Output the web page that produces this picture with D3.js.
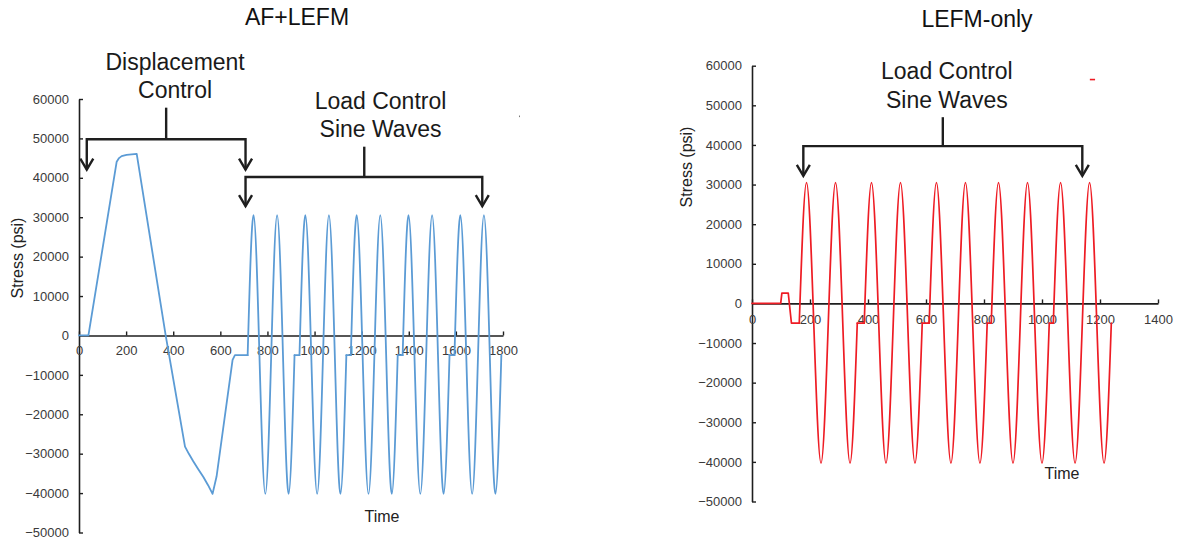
<!DOCTYPE html>
<html>
<head>
<meta charset="utf-8">
<script src="https://cdn.jsdelivr.net/npm/d3@7"></script>
<style>
  html, body { margin: 0; padding: 0; background: #fff; }
  svg { display: block; font-family: "Liberation Sans", Arial, sans-serif; }
</style>
</head>
<body>
<svg id="chart" width="1177" height="544"></svg>
<script>
// ---- data -------------------------------------------------------------
const stressTicks = [-50000, -40000, -30000, -20000, -10000, 0, 10000, 20000, 30000, 40000, 50000, 60000];
const afTimeTicks = [0, 200, 400, 600, 800, 1000, 1200, 1400, 1600, 1800];
const lefmTimeTicks = [0, 200, 400, 600, 800, 1000, 1200, 1400];

// AF+LEFM: displacement-controlled ramp, then hold before the sine blocks
const afRampTime   = [0, 40, 160, 170, 181, 202, 245, 368, 450, 467, 485, 505, 528, 548, 567, 584, 652, 662, 716];
const afRampStress = [0, 0, 44100, 45000, 45500, 45800, 46050, 0, -28200, -30100, -31900, -33800, -35900, -38000, -40200, -35800, -6200, -5000, -5000];

// AF+LEFM: load-controlled sine blocks (two cycles each), quarter-cycle points
const afSineTime = [
  [716, 741, 766, 791, 816, 841, 866, 890, 915],
  [936, 961, 986, 1011, 1036, 1061, 1086, 1110, 1135],
  [1154, 1179, 1204, 1229, 1254, 1279, 1304, 1328, 1353],
  [1374, 1399, 1424, 1449, 1474, 1499, 1524, 1548, 1573],
  [1594, 1619, 1644, 1669, 1694, 1719, 1744, 1768, 1793]
];
const afSineStress = [-5000, 30500, -5000, -40200, -5000, 30500, -5000, -40200, -5000];

// LEFM-only: short pre-load step, then hold
const lefmRampTime   = [0, 99, 103, 125, 136, 163];
const lefmRampStress = [0, 0, 2600, 2600, -5000, -5000];

// LEFM-only: sine blocks
const lefmSineTime = [
  [163, 188, 213, 238, 263, 288, 313, 338, 363],
  [387, 412, 437, 462, 487, 512, 537, 562, 587],
  [611, 636, 661, 686, 711, 736, 761, 786, 811],
  [825, 850, 875, 900, 925, 950, 975, 1000, 1025],
  [1039, 1064, 1089, 1114, 1139, 1164, 1189, 1214, 1239]
];
const lefmSineStress = [-5000, 30500, -5000, -40300, -5000, 30500, -5000, -40300, -5000];

// bracket annotations (time / stress units of each panel)
const afBrackets = [
  { lines: ["Displacement", "Control"], from: 33, to: 707, at: 49800, tip: 42100, stem: 370, top: 57800, textAt: 408 },
  { lines: ["Load Control", "Sine Waves"], from: 707, to: 1712, at: 40200, tip: 32800, stem: 1211, top: 47900, textAt: 1280 }
];
const lefmBrackets = [
  { lines: ["Load Control", "Sine Waves"], from: 177, to: 1139, at: 39700, tip: 32200, stem: 658, top: 47000, textAt: 672 }
];

// ---- drawing ----------------------------------------------------------
const svg = d3.select("#chart");
const INK = "#1e1e1e";

function panel(cfg) {
  const g = svg.append("g");
  const x = d3.scaleLinear().domain(cfg.xDomain).range(cfg.xRange);
  const y = d3.scaleLinear().domain([-50000, 60000]).range(cfg.yRange);

  // title
  g.append("text")
    .attr("x", cfg.titleX).attr("y", cfg.titleY)
    .attr("text-anchor", "middle")
    .attr("font-size", 23).attr("fill", "#111")
    .text(cfg.title);

  // axes: y axis at time 0, x axis at stress 0, ticks pointing inward
  const yAxis = d3.axisLeft(y).tickValues(stressTicks).tickSizeInner(-4).tickSizeOuter(0).tickPadding(10).tickFormat(d3.format("d"));
  const xAxis = d3.axisBottom(x).tickValues(cfg.xTicks).tickSizeInner(-4).tickSizeOuter(0).tickPadding(cfg.xPad).tickFormat(d3.format("d"));

  const ya = g.append("g").attr("transform", `translate(${x(0)},0)`).call(yAxis);
  const xa = g.append("g").attr("transform", `translate(0,${y(0)})`).call(xAxis);
  [ya, xa].forEach(a => {
    a.select(".domain").attr("stroke", INK).attr("stroke-width", 1.6);
    a.selectAll(".tick line").attr("stroke", INK).attr("stroke-width", 1.4);
    a.selectAll(".tick text").attr("font-size", 13).attr("fill", "#3a3a3a")
      .attr("font-family", "\"Liberation Sans\", Arial, sans-serif");
  });
  ya.selectAll(".tick").filter(d => d === 0).select("line").remove();

  // axis titles
  g.append("text")
    .attr("transform", `translate(${cfg.yTitleX},${cfg.yTitleY}) rotate(-90)`)
    .attr("text-anchor", "middle").attr("font-size", 16).attr("fill", "#222")
    .text("Stress (psi)");
  g.append("text")
    .attr("x", cfg.xTitleX).attr("y", cfg.xTitleY)
    .attr("text-anchor", "middle").attr("font-size", 16).attr("fill", "#222")
    .text("Time");

  // series
  const straight = d3.line().x(d => x(d[0])).y(d => y(d[1]));
  const smooth = d3.line().x(d => x(d[0])).y(d => y(d[1])).curve(d3.curveNatural);
  const lineStyle = p => p.attr("fill", "none").attr("stroke", cfg.color)
    .attr("stroke-width", cfg.width).attr("stroke-linejoin", "round").attr("stroke-linecap", "round");

  g.append("path").datum(d3.zip(cfg.rampTime, cfg.rampStress)).attr("d", straight).call(lineStyle);
  cfg.sineTime.forEach((block, i) => {
    g.append("path").datum(d3.zip(block, cfg.sineStress)).attr("d", smooth).call(lineStyle);
    const next = cfg.sineTime[i + 1];
    if (next) {
      const hold = [[block[block.length - 1], cfg.sineStress[cfg.sineStress.length - 1]],
                    [next[0], cfg.sineStress[0]]];
      g.append("path").datum(hold).attr("d", straight).call(lineStyle);
    }
  });

  // brackets with arrows
  cfg.brackets.forEach(b => {
    const ab = g.append("g").attr("fill", "none").attr("stroke", INK)
      .attr("stroke-width", 2.4).attr("stroke-linejoin", "miter");
    ab.append("path").attr("d",
      `M${x(b.from)},${y(b.tip)} V${y(b.at)} H${x(b.to)} V${y(b.tip)}`);
    ab.append("path").attr("d", `M${x(b.stem)},${y(b.top)} V${y(b.at)}`);
    [b.from, b.to].forEach(t => {
      const px = x(t), py = y(b.tip);
      ab.append("path").attr("d", `M${px - 6.5},${py - 11} L${px},${py} L${px + 6.5},${py - 11}`);
    });
    b.lines.forEach((s, k) => {
      g.append("text")
        .attr("x", x(b.textAt))
        .attr("y", y(b.top) - 38 + k * 28.5)
        .attr("text-anchor", "middle").attr("font-size", 23).attr("fill", "#1a1a1a")
        .text(s);
    });
  });
  return { g, x, y };
}

const left = panel({
  title: "AF+LEFM", titleX: 297, titleY: 25,
  xDomain: [0, 1800], xRange: [79, 503], yRange: [532.5, 99],
  xTicks: afTimeTicks, xPad: 10,
  yTitleX: 23, yTitleY: 258, xTitleX: 382, xTitleY: 522,
  rampTime: afRampTime, rampStress: afRampStress,
  sineTime: afSineTime, sineStress: afSineStress,
  color: "#5b9bd5", width: 1.8, brackets: afBrackets
});

const right = panel({
  title: "LEFM-only", titleX: 977, titleY: 27,
  xDomain: [0, 1400], xRange: [752, 1158], yRange: [501.5, 65.7],
  xTicks: lefmTimeTicks, xPad: 11,
  yTitleX: 692, yTitleY: 167, xTitleX: 1062, xTitleY: 479,
  rampTime: lefmRampTime, rampStress: lefmRampStress,
  sineTime: lefmSineTime, sineStress: lefmSineStress,
  color: "#ee1c24", width: 1.7, brackets: lefmBrackets
});

// small stray marks near the panel corners
right.g.append("line")
  .attr("x1", right.x(1165)).attr("x2", right.x(1183))
  .attr("y1", right.y(56500)).attr("y2", right.y(56500))
  .attr("stroke", "#ee1c24").attr("stroke-width", 1.6);
left.g.append("line")
  .attr("x1", left.x(1870)).attr("x2", left.x(1870))
  .attr("y1", left.y(55800)).attr("y2", left.y(55400))
  .attr("stroke", "#777").attr("stroke-width", 1);
</script>
</body>
</html>
